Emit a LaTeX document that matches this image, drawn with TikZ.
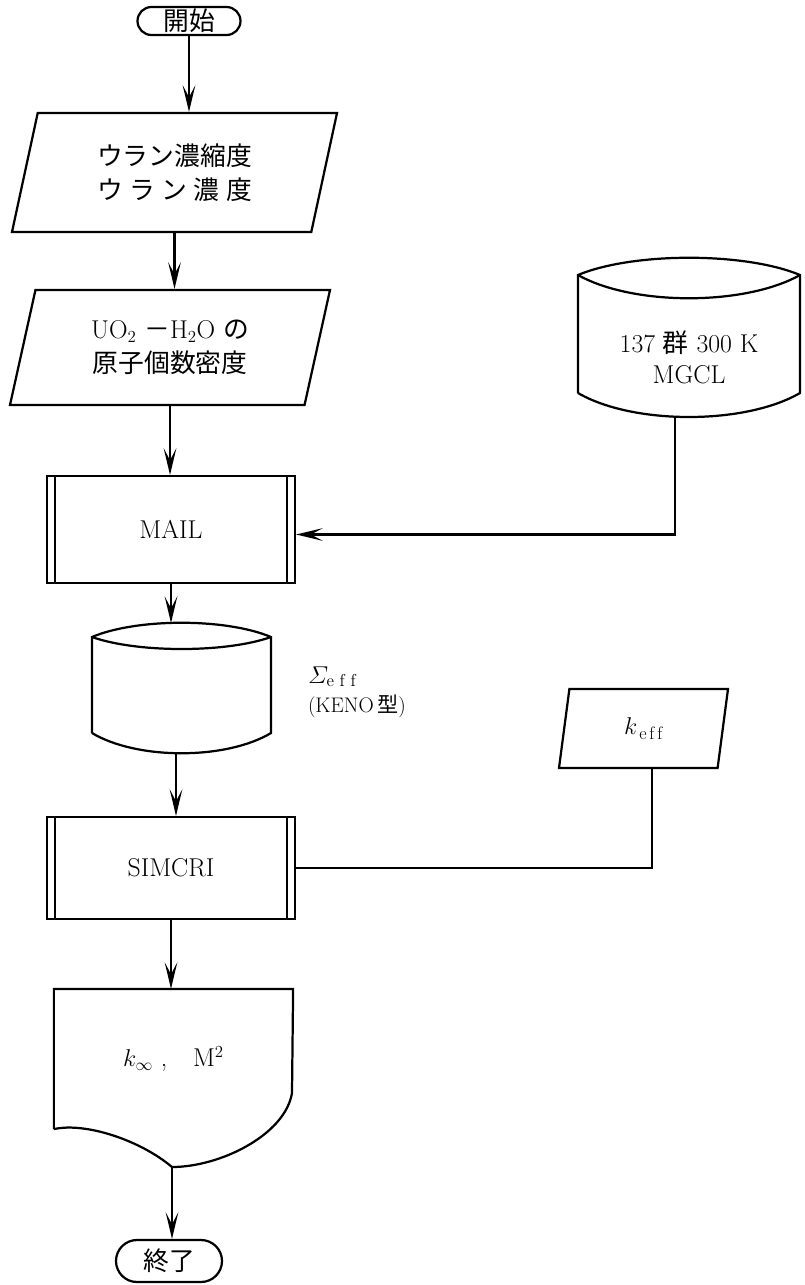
\documentclass[tikz,border=0pt]{standalone}
\usepackage{amsmath}
\usepackage{fontspec}
\newfontfamily\jp{Noto Sans CJK JP}
\usetikzlibrary{shapes.geometric,shapes.misc,arrows.meta,calc}
\newcommand\chartfont{\fontsize{22}{29}\selectfont}

\begin{document}
\begin{tikzpicture}[x=0.03cm, y=-0.03cm, line width=1.9pt, font=\chartfont,
    flow/.style={-{Stealth[length=8mm,width=3.8mm,inset=3.6mm]}},
    terminal/.style={draw, rounded rectangle, inner sep=0pt, font=\jp\chartfont},
    inputbox/.style={draw, trapezium, trapezium stretches body, inner sep=0pt, align=center},
    procbox/.style={draw, rectangle, minimum width=7.44cm, inner sep=0pt,
        path picture={
            \draw[line width=1.5pt] ([xshift=0.24cm]path picture bounding box.north west) -- ([xshift=0.24cm]path picture bounding box.south west);
            \draw[line width=1.5pt] ([xshift=-0.24cm]path picture bounding box.north east) -- ([xshift=-0.24cm]path picture bounding box.south east);
        }}]
    \path[use as bounding box] (0,0) rectangle (804,1285);

    % main column
    \node[terminal, minimum width=3.09cm, minimum height=0.84cm] (start) at (189,21) {開始};
    \node[inputbox, trapezium left angle=66, trapezium right angle=114,
          minimum width=9.75cm, minimum height=3.57cm, font=\jp\chartfont] (enrich) at (174.5,172.5)
          {ウラン濃縮度\\\makebox[6em][s]{ウ\hfill ラ\hfill ン\hfill 濃\hfill 度}};
    \node[inputbox, trapezium left angle=65, trapezium right angle=115,
          minimum width=9.6cm, minimum height=3.45cm] (density) at (170,347.5)
          {UO$_2$ {\jp －}H$_2$O {\jp の}\\{\jp 原子個数密度}};
    \node[procbox, minimum height=3.21cm] (mail) at (171,529.5) {MAIL};

    % cross section file
    \draw (92,733) -- (92,637) .. controls (137,618) and (226,618) .. (271,637) -- (271,733)
          .. controls (226,760) and (137,760) .. (92,733);
    \draw (92,637) .. controls (137,653) and (226,653) .. (271,637);
    \coordinate (sigin) at (181,623);
    \coordinate (sigout) at (176,753);
    \node[anchor=west, align=left, font=\fontsize{18}{25}\selectfont] (sigmalabel) at (303,692)
          {\fontsize{21}{25}\selectfont$\varSigma_{\mathrm{e\,\,f\,\,f}}$\\(KENO\,{\jp 型})};

    \node[procbox, minimum height=3.06cm] (simcri) at (171,868) {SIMCRI};

    % output document
    \node[minimum width=7.11cm, minimum height=4.14cm, inner sep=0pt] (result) at (173.5,1059)
          {$k_{\infty}$\ ,\quad M$^2$};
    \coordinate (cusp) at (172,1167);
    \draw (result.south west) -- (result.north west) -- (result.north east) -- (292,1093)
          .. controls (285,1135) and (220,1167) .. (cusp)
          .. controls (140,1140) and (85,1122) .. (result.south west);
    \node[terminal, minimum width=3.18cm, minimum height=1.26cm] (finish) at (169,1261) {終了};

    % library drum
    \draw (578,393) -- (578,275) .. controls (633,252) and (745,252) .. (800,275) -- (800,393)
          .. controls (745,425) and (633,425) .. (578,393);
    \draw (578,275) .. controls (633,306) and (745,306) .. (800,275);
    \node[align=center] (mgcl) at (689,357) {137 {\jp 群} 300 K\\[-2.6pt]MGCL};
    \coordinate (mgclout) at (675,417);

    \node[inputbox, trapezium left angle=64, trapezium right angle=116,
          minimum width=5.07cm, minimum height=2.37cm] (keff) at (643.5,728.5) {$k_{\,\mathrm{e\,f\,f}}$};

    % connectors
    \draw[flow] (start.south) -- (start.south |- enrich.north);
    \draw[flow] (enrich.south) -- (enrich.south |- density.north);
    \draw[flow] (density.south) -- (density.south |- mail.north);
    \draw[flow] (mgclout) |- ([yshift=-0.15cm]mail.east);
    \draw[flow] (mail.south) -- (mail.south |- sigin);
    \draw[flow] (sigout) -- (sigout |- simcri.north);
    \draw (simcri.east) -| ([xshift=0.26cm]keff.south);
    \draw[flow] (simcri.south) -- (simcri.south |- result.north);
    \draw[flow] (cusp) -- (cusp |- finish.north);
\end{tikzpicture}
\end{document}
